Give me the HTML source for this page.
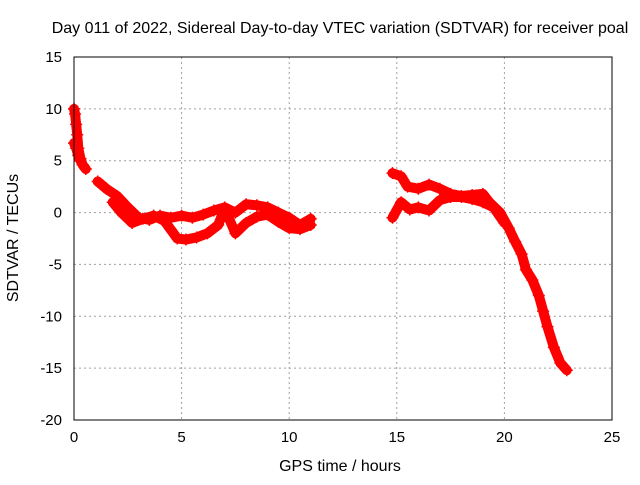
<!DOCTYPE html>
<html><head><meta charset="utf-8"><style>
body{margin:0;background:#fff;font-family:"Liberation Sans",sans-serif}
svg text{font-family:"Liberation Sans",sans-serif;font-size:15px;fill:#000}
svg text.big{font-size:16px}
</style></head><body>
<svg id="c" width="640" height="480">
<rect width="640" height="480" fill="#fff"/>
<text class="big" x="340" y="33" text-anchor="middle">Day 011 of 2022, Sidereal Day-to-day VTEC variation (SDTVAR) for receiver poal</text>
<text class="big" x="340" y="471" text-anchor="middle">GPS time / hours</text>
<text class="big" transform="translate(18,238) rotate(-90)" text-anchor="middle">SDTVAR / TECUs</text>
<g id="grid"></g><g id="marks"></g>
<rect x="74" y="57" width="538" height="363" fill="none" stroke="#000" stroke-width="1"/>
</svg>
<script>
const xTicks=[0,5,10,15,20,25];
const yTicks=[15,10,5,0,-5,-10,-15,-20];
const traceEarlyX=[0,0.05,0.1,0.15,0.2,0.3,0.4,0.55];
const traceEarlyY=[10,9.5,8.5,7.5,6.2,5.2,4.6,4.2];
const traceEarly2X=[0,0.1,0.2,0.3];
const traceEarly2Y=[6.7,6.2,5.5,5];
const traceMidX=[1.1,1.5,2,2.5,3,3.5,4,4.5,5,5.5,6,6.5,7,7.5,8,8.5,9,9.5,10,10.5,11];
const traceMidY=[3,2.3,1.6,0.5,-0.5,-0.7,-0.3,-0.5,-0.3,-0.5,-0.2,0.2,0.5,0,0.8,0.7,0.5,0,-0.5,-1.2,-0.6];
const traceLowX=[1.8,2.2,2.7,3.2,3.7,4.2,4.8,5.2,5.7,6.2,6.7,7,7.5,8,8.5,9,9.5,10,10.5,11];
const traceLowY=[1,0,-1,-0.6,-0.3,-0.8,-2.5,-2.6,-2.4,-2,-1.2,0.4,-2,-1,-0.4,-0.2,-0.9,-1.5,-1.6,-1.2];
const traceLateX=[14.8,15.2,15.5,16,16.5,17,17.5,18,18.5,19,19.3,19.8,20.2,20.5,20.8,21,21.3,21.6,21.8,22,22.3,22.6,22.9];
const traceLateY=[3.8,3.5,2.5,2.3,2.7,2.3,1.8,1.6,1.7,1.8,1,0,-1.5,-2.8,-4,-5.5,-6.5,-8,-9.5,-11,-13,-14.5,-15.2];
const traceLate2X=[14.8,15.2,15.6,16,16.5,17,17.5,18,18.5,19,19.5,20];
const traceLate2Y=[-0.5,1,0.3,0.5,0.2,1.2,1.5,1.5,1.3,1,0.5,-1];
const NS='http://www.w3.org/2000/svg';
const px=v=>74+v*538/25, py=v=>57+(15-v)*363/35;
const grid=document.getElementById('grid'), marks=document.getElementById('marks');
function mk(t,a,p){const e=document.createElementNS(NS,t);for(const k in a)e.setAttribute(k,a[k]);p.appendChild(e);return e;}
xTicks.forEach(t=>{
  if(t>0&&t<25){const l=mk('line',{x1:px(t),x2:px(t),y1:57,y2:420,stroke:'#a0a0a0','stroke-dasharray':'2,3'},grid);
  
  }
  const tx=mk('text',{x:px(t),y:442,'text-anchor':'middle'},grid);tx.textContent=t;
  
  
});
yTicks.forEach(t=>{
  if(t<15&&t>-20){const l=mk('line',{x1:74,x2:612,y1:py(t),y2:py(t),stroke:'#a0a0a0','stroke-dasharray':'2,3'},grid);
  
  }
  const tx=mk('text',{x:62,y:py(t)+5,'text-anchor':'end'},grid);tx.textContent=t;
  
  
});
function draw(xs,ys,name){
  const pts=xs.map((x,i)=>px(x)+','+py(ys[i])).join(' ');
  const pl=mk('polyline',{points:pts,fill:'none',stroke:'#f00','stroke-width':10,'stroke-linejoin':'round','stroke-linecap':'round'},marks);
  
  
  xs.forEach((x,i)=>{const X=px(x),Y=py(ys[i]);
    const p=mk('path',{d:`M${X-6},${Y}H${X+6}M${X},${Y-6}V${Y+6}`,stroke:'#f00','stroke-width':1.5},marks);
    
    });
}
draw(traceEarlyX,traceEarlyY,'trace-early');
draw(traceEarly2X,traceEarly2Y,'trace-early-2');
draw(traceMidX,traceMidY,'trace-mid');
draw(traceLowX,traceLowY,'trace-low');
draw(traceLateX,traceLateY,'trace-late');
draw(traceLate2X,traceLate2Y,'trace-late-2');
</script>
</body></html>
